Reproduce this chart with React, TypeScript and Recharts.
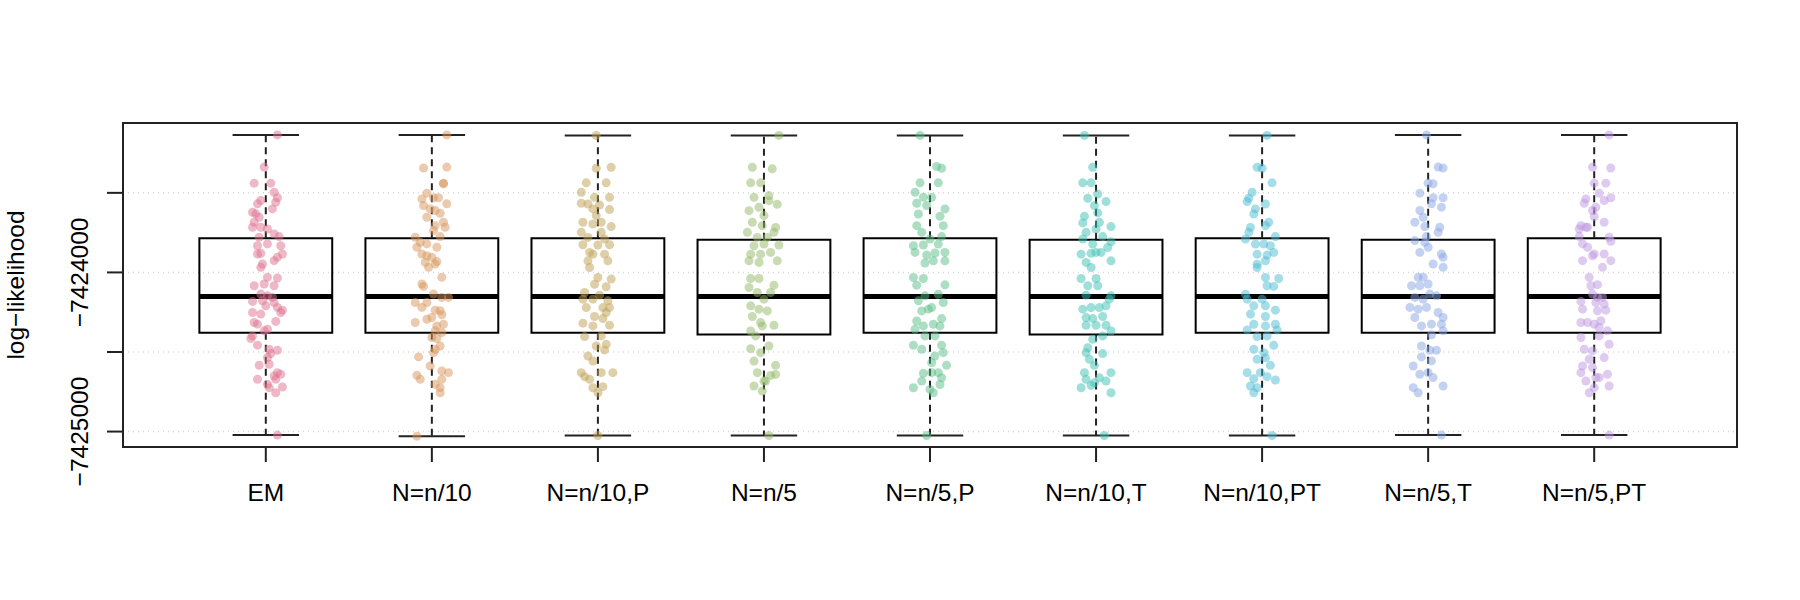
import {
  ComposedChart,
  Scatter,
  XAxis,
  YAxis,
  CartesianGrid,
  ReferenceArea,
  ReferenceLine,
} from "recharts";

const FONT = '"Liberation Sans", Arial, Helvetica, sans-serif';

const categories = [
  "EM",
  "N=n/10",
  "N=n/10,P",
  "N=n/5",
  "N=n/5,P",
  "N=n/10,T",
  "N=n/10,PT",
  "N=n/5,T",
  "N=n/5,PT",
];

// translucent point colours, one per method
const colors = [
  "#DE7290",
  "#D8955C",
  "#C0A052",
  "#93B868",
  "#5ABD88",
  "#3EC2B4",
  "#4BBCD2",
  "#8AA5E6",
  "#BE97E0",
];

// box statistics
const lows = [-7425022, -7425029, -7425025, -7425025, -7425025, -7425025, -7425025, -7425022, -7425022];
const q1s = [-7424379, -7424379, -7424379, -7424390, -7424379, -7424390, -7424379, -7424379, -7424379];
const medians = [-7424151, -7424151, -7424151, -7424151, -7424151, -7424151, -7424151, -7424151, -7424151];
const q3s = [-7423786, -7423786, -7423786, -7423795, -7423786, -7423795, -7423786, -7423795, -7423786];
const highs = [-7423136, -7423136, -7423139, -7423139, -7423139, -7423139, -7423139, -7423136, -7423136];

const yTicks = [-7425000, -7424500, -7424000, -7423500];
const yLabelled = [-7425000, -7424000];

// [jitter, log-likelihood]
const emPts: [number, number][] = [
  [0.07, -7423136], [-0.01, -7423338], [-0.07, -7423439], [0.03, -7423439], [0.05, -7423496],
  [0.07, -7423531], [0.06, -7423559], [-0.05, -7423569], [-0.03, -7423548], [-0.08, -7423622],
  [0.04, -7423601], [-0.06, -7423632], [-0.07, -7423685], [-0.04, -7423653], [-0.08, -7423716],
  [-0.03, -7423716], [0.01, -7423727], [0.05, -7423758], [0.08, -7423775], [-0.04, -7423779],
  [-0.05, -7423832], [0.01, -7423821], [0.09, -7423832], [-0.03, -7423880], [-0.05, -7423884],
  [0.1, -7423884], [0.07, -7423905], [0.05, -7423926], [-0.02, -7423947], [-0.03, -7423968],
  [0.01, -7424031], [0.07, -7424035], [-0.07, -7424084], [-0.01, -7424073], [0.05, -7424084],
  [-0.03, -7424136], [0.01, -7424147], [0.04, -7424157], [-0.08, -7424182], [-0.02, -7424178],
  [0.05, -7424189], [0, -7424210], [0.07, -7424220], [0.1, -7424237], [-0.08, -7424252],
  [-0.03, -7424262], [0.09, -7424252], [-0.07, -7424315], [-0.05, -7424325], [0.06, -7424308],
  [0.01, -7424357], [-0.01, -7424367], [-0.08, -7424399], [-0.09, -7424415], [-0.05, -7424457],
  [0.02, -7424483], [0.07, -7424489], [0.03, -7424510], [0.01, -7424535], [-0.04, -7424583],
  [0.02, -7424577], [0.07, -7424630], [0.05, -7424651], [0.09, -7424640], [0.06, -7424672],
  [-0.05, -7424672], [0.01, -7424703], [0.1, -7424720], [0.02, -7424724], [0.06, -7424756],
  [0.07, -7425022],
];

const n10Pts: [number, number][] = [
  [0.09, -7423136], [-0.05, -7423344], [0.09, -7423338], [0.07, -7423439], [0.07, -7423443],
  [-0.03, -7423502], [-0.06, -7423538], [0.01, -7423531], [0.04, -7423531], [0.09, -7423569],
  [-0.05, -7423580], [-0.01, -7423601], [0.02, -7423611], [0.05, -7423628], [-0.03, -7423653],
  [0.07, -7423685], [0.02, -7423706], [0.08, -7423716], [0.01, -7423737], [0.05, -7423775],
  [-0.1, -7423779], [-0.07, -7423811], [-0.03, -7423821], [-0.09, -7423842], [0.03, -7423842],
  [-0.06, -7423884], [-0.03, -7423895], [0, -7423905], [-0.04, -7423937], [0.02, -7423947],
  [0.03, -7423932], [-0.02, -7423968], [0.06, -7424031], [-0.06, -7424073], [-0.05, -7424088],
  [0.01, -7424136], [0.06, -7424157], [0.1, -7424157], [-0.1, -7424189], [-0.03, -7424189],
  [-0.06, -7424220], [0.02, -7424237], [0.05, -7424241], [0.06, -7424266], [0, -7424283],
  [-0.03, -7424294], [-0.1, -7424315], [0.07, -7424325], [0.03, -7424336], [0.02, -7424367],
  [0.06, -7424378], [0, -7424409], [0.03, -7424415], [0.02, -7424483], [0.05, -7424462],
  [0.01, -7424504], [-0.08, -7424531], [-0.01, -7424588], [0.06, -7424619], [0.1, -7424630],
  [-0.09, -7424646], [-0.07, -7424672], [0.06, -7424672], [0.02, -7424703], [0.05, -7424724],
  [0.05, -7424756], [-0.09, -7425029],
];

const n10pPts: [number, number][] = [
  [-0.01, -7423139], [-0.01, -7423345], [0.08, -7423339], [-0.07, -7423437], [0.05, -7423437],
  [-0.1, -7423496], [0.07, -7423528], [-0.1, -7423565], [-0.06, -7423570], [-0.02, -7423528],
  [0.01, -7423576], [-0.03, -7423601], [0.07, -7423605], [-0.01, -7423643], [-0.09, -7423685],
  [-0.03, -7423696], [0.02, -7423685], [0.08, -7423712], [-0.1, -7423748], [0.02, -7423748],
  [-0.06, -7423780], [0.04, -7423790], [-0.09, -7423826], [0, -7423828], [0.07, -7423826],
  [-0.05, -7423874], [-0.03, -7423885], [0.04, -7423885], [0.06, -7423927], [-0.06, -7423927],
  [-0.05, -7423969], [0, -7424032], [0.08, -7424042], [-0.02, -7424074], [0.05, -7424090],
  [-0.08, -7424126], [0.01, -7424143], [-0.09, -7424168], [-0.03, -7424168], [0.06, -7424178],
  [-0.07, -7424221], [0.03, -7424221], [0.07, -7424221], [0.05, -7424252], [-0.02, -7424277],
  [0.03, -7424290], [-0.09, -7424319], [-0.03, -7424336], [0.07, -7424332], [-0.08, -7424403],
  [0.02, -7424399], [0.05, -7424452], [-0.01, -7424462], [0.04, -7424487], [-0.06, -7424525],
  [-0.03, -7424557], [-0.1, -7424630], [-0.08, -7424655], [-0.05, -7424672], [0.02, -7424630],
  [0.09, -7424630], [-0.03, -7424725], [0.03, -7424718], [0, -7424756], [0, -7425025],
];

const n5Pts: [number, number][] = [
  [0.09, -7423139], [-0.07, -7423339], [0.05, -7423349], [-0.08, -7423437], [-0.02, -7423437],
  [-0.06, -7423528], [0.03, -7423517], [0.08, -7423572], [-0.09, -7423612], [-0.03, -7423591],
  [0.03, -7423549], [0, -7423643], [-0.07, -7423685], [-0.01, -7423706], [0.07, -7423717],
  [-0.1, -7423748], [0.06, -7423748], [0.02, -7423780], [-0.04, -7423780], [-0.06, -7423832],
  [0, -7423822], [0.09, -7423828], [-0.08, -7423885], [-0.02, -7423885], [0.04, -7423874],
  [-0.09, -7423927], [0.08, -7423927], [-0.03, -7423937], [-0.08, -7424038], [-0.03, -7424038],
  [0.06, -7424080], [-0.09, -7424095], [-0.04, -7424126], [0.04, -7424126], [0, -7424168],
  [-0.08, -7424210], [-0.03, -7424231], [0.02, -7424242], [-0.07, -7424277], [-0.02, -7424315],
  [0.06, -7424332], [-0.01, -7424336], [-0.08, -7424368], [-0.05, -7424399], [0.03, -7424462],
  [-0.08, -7424479], [-0.02, -7424504], [-0.06, -7424557], [0.07, -7424584], [-0.04, -7424630],
  [0.04, -7424647], [0.07, -7424641], [0, -7424683], [-0.06, -7424714], [-0.01, -7424746],
  [0.01, -7424683], [0.03, -7425025],
];

const n5pPts: [number, number][] = [
  [-0.06, -7423139], [0.04, -7423334], [0.07, -7423345], [-0.06, -7423437], [0.05, -7423437],
  [-0.09, -7423496], [-0.04, -7423528], [0.01, -7423528], [-0.02, -7423580], [-0.08, -7423565],
  [0.09, -7423601], [-0.07, -7423633], [0.06, -7423647], [0.08, -7423706], [-0.08, -7423706],
  [-0.05, -7423748], [0.07, -7423775], [-0.1, -7423832], [-0.04, -7423828], [0, -7423790],
  [0.05, -7423822], [-0.09, -7423874], [-0.02, -7423891], [0.03, -7423878], [0.09, -7423874],
  [-0.03, -7423941], [0.02, -7423927], [0.09, -7423927], [-0.1, -7424032], [-0.04, -7424038],
  [-0.08, -7424080], [0.09, -7424078], [-0.03, -7424147], [0.05, -7424137], [-0.07, -7424178],
  [0.01, -7424221], [0.08, -7424189], [-0.05, -7424242], [-0.01, -7424231], [0.07, -7424290],
  [-0.08, -7424305], [0.02, -7424326], [0.06, -7424336], [-0.09, -7424357], [-0.04, -7424336],
  [-0.03, -7424399], [0.03, -7424399], [-0.1, -7424458], [-0.05, -7424483], [0.07, -7424458],
  [0.03, -7424525], [0.08, -7424504], [0.01, -7424567], [0.1, -7424584], [-0.04, -7424634],
  [0.05, -7424630], [0.07, -7424662], [-0.05, -7424683], [0.01, -7424630], [-0.1, -7424725],
  [0, -7424735], [0.02, -7424756], [0.06, -7424704], [-0.02, -7425025],
];

const n10tPts: [number, number][] = [
  [-0.07, -7423139], [-0.02, -7423339], [-0.08, -7423437], [-0.03, -7423437], [0.01, -7423507],
  [0.06, -7423555], [-0.05, -7423534], [-0.01, -7423580], [0.01, -7423626], [-0.07, -7423647],
  [-0.08, -7423689], [0.02, -7423685], [0.09, -7423712], [0, -7423727], [-0.06, -7423748],
  [-0.08, -7423790], [0.04, -7423775], [0.09, -7423807], [-0.02, -7423822], [0.07, -7423843],
  [-0.09, -7423885], [-0.03, -7423880], [0, -7423874], [0.03, -7423874], [-0.06, -7423937],
  [-0.03, -7423969], [0.09, -7423927], [-0.09, -7424038], [0, -7424038], [-0.05, -7424084],
  [0.01, -7424084], [0.09, -7424147], [-0.06, -7424143], [-0.08, -7424231], [-0.03, -7424221],
  [0.02, -7424221], [0.06, -7424210], [0.08, -7424168], [-0.06, -7424284], [-0.02, -7424290],
  [0.04, -7424277], [-0.06, -7424332], [0, -7424332], [0.06, -7424332], [0.09, -7424368],
  [0.04, -7424399], [-0.02, -7424420], [-0.05, -7424473], [-0.06, -7424504], [0.04, -7424510],
  [-0.04, -7424546], [-0.01, -7424584], [-0.07, -7424630], [0.09, -7424630], [-0.06, -7424672],
  [0.02, -7424662], [0.06, -7424683], [-0.01, -7424693], [-0.09, -7424725], [-0.03, -7424710],
  [0.09, -7424756], [0.05, -7425025],
];

const n10ptPts: [number, number][] = [
  [0.03, -7423139], [-0.03, -7423339], [0, -7423345], [0.06, -7423437], [-0.06, -7423496],
  [-0.08, -7423534], [-0.09, -7423555], [0.02, -7423570], [-0.04, -7423601], [-0.05, -7423633],
  [0.04, -7423685], [0.02, -7423706], [-0.07, -7423717], [-0.08, -7423748], [-0.1, -7423790],
  [0.08, -7423775], [-0.04, -7423822], [0.01, -7423822], [0.05, -7423832], [0.07, -7423874],
  [-0.03, -7423885], [0.03, -7423891], [0.02, -7423927], [-0.03, -7423948], [-0.03, -7423969],
  [0.02, -7424032], [0.1, -7424038], [0.03, -7424084], [0.07, -7424088], [-0.1, -7424137],
  [-0.09, -7424168], [0, -7424168], [-0.05, -7424210], [0.02, -7424210], [0.08, -7424237],
  [-0.07, -7424262], [0.02, -7424277], [-0.05, -7424326], [0.02, -7424336], [0.08, -7424326],
  [-0.09, -7424361], [0.09, -7424361], [-0.03, -7424403], [0.03, -7424399], [0.07, -7424458],
  [-0.05, -7424483], [0.01, -7424504], [-0.03, -7424546], [0.02, -7424536], [0.05, -7424584],
  [-0.09, -7424630], [-0.01, -7424630], [-0.05, -7424668], [0.03, -7424655], [0.08, -7424676],
  [-0.07, -7424714], [-0.03, -7424725], [-0.05, -7424756], [0.06, -7425025],
];

const n5tPts: [number, number][] = [
  [-0.01, -7423136], [0.06, -7423338], [0.09, -7423344], [0, -7423439], [0.03, -7423443],
  [-0.05, -7423502], [0.03, -7423531], [0.09, -7423531], [0.02, -7423569], [0.08, -7423590],
  [-0.05, -7423611], [-0.03, -7423653], [-0.02, -7423712], [-0.08, -7423685], [0.07, -7423716],
  [-0.01, -7423775], [0.06, -7423748], [-0.08, -7423800], [-0.02, -7423811], [0, -7423842],
  [-0.05, -7423874], [0.08, -7423884], [0.09, -7423905], [0.03, -7423947], [0.09, -7423968],
  [-0.06, -7424031], [-0.03, -7424031], [-0.1, -7424084], [-0.05, -7424084], [0, -7424073],
  [-0.08, -7424157], [-0.03, -7424168], [0.01, -7424136], [0.05, -7424147], [-0.11, -7424220],
  [-0.06, -7424231], [-0.01, -7424220], [0.06, -7424252], [0.09, -7424283], [-0.08, -7424283],
  [-0.04, -7424336], [0.02, -7424325], [0.08, -7424325], [0.09, -7424367], [0.02, -7424392],
  [-0.04, -7424462], [0.01, -7424489], [0.05, -7424489], [-0.04, -7424531], [0.02, -7424556],
  [-0.09, -7424588], [-0.05, -7424640], [0, -7424630], [0.03, -7424661], [0.09, -7424714],
  [-0.09, -7424724], [-0.06, -7424756], [0.08, -7425022],
];

const n5ptPts: [number, number][] = [
  [0.09, -7423136], [-0.01, -7423338], [0.1, -7423344], [0, -7423439], [0.07, -7423439],
  [0.03, -7423502], [0.1, -7423531], [-0.05, -7423538], [-0.06, -7423565], [0.06, -7423548],
  [0.01, -7423590], [-0.01, -7423611], [0, -7423649], [0.06, -7423685], [-0.08, -7423706],
  [-0.05, -7423716], [-0.09, -7423727], [-0.04, -7423716], [-0.09, -7423775], [0.09, -7423779],
  [0.1, -7423804], [-0.07, -7423821], [-0.04, -7423842], [0, -7423884], [-0.01, -7423895],
  [0.06, -7423884], [-0.07, -7423926], [0.05, -7423968], [0.1, -7423926], [-0.03, -7424031],
  [0.02, -7424077], [-0.02, -7424084], [-0.01, -7424136], [0.02, -7424157], [0.05, -7424157],
  [-0.08, -7424182], [0.01, -7424189], [0.06, -7424199], [-0.07, -7424231], [0.02, -7424241],
  [0.07, -7424237], [-0.08, -7424315], [-0.04, -7424315], [0.04, -7424304], [0, -7424325],
  [0.03, -7424346], [0.03, -7424399], [0.08, -7424367], [-0.08, -7424409], [-0.06, -7424483],
  [-0.01, -7424493], [0.09, -7424451], [-0.03, -7424546], [0.06, -7424535], [-0.07, -7424588],
  [-0.01, -7424598], [-0.08, -7424630], [0.03, -7424661], [0.08, -7424640], [0.01, -7424661],
  [-0.05, -7424682], [0.09, -7424714], [-0.03, -7424756], [0, -7424724], [0.09, -7425022],
];

const groups = [emPts, n10Pts, n10pPts, n5Pts, n5pPts, n10tPts, n10ptPts, n5tPts, n5ptPts];

const X_DOMAIN: [number, number] = [0.14, 9.86];
const Y_DOMAIN: [number, number] = [-7425097, -7423061];

const fmt = (v: number) => (v < 0 ? "\u2212" + Math.abs(v) : String(v));

const XTick = ({ x, y, payload }: any) => (
  <text
    x={x}
    y={y + 37}
    textAnchor="middle"
    fontSize={24.5}
    fontFamily={FONT}
    fill="#000"
  >
    {categories[payload.value - 1]}
  </text>
);

const YTick = ({ x, y, payload }: any) => {
  if (!yLabelled.includes(payload.value)) return <g />;
  return (
    <text
      transform={`translate(${x - 17},${y}) rotate(-90)`}
      textAnchor="middle"
      fontSize={24.5}
      fontFamily={FONT}
      fill="#000"
    >
      {fmt(payload.value)}
    </text>
  );
};

const YTitle = ({ viewBox }: any) => {
  const cy = viewBox.y + viewBox.height / 2;
  return (
    <text
      transform={`translate(24,${cy}) rotate(-90)`}
      textAnchor="middle"
      fontSize={24.5}
      fontFamily={FONT}
      fill="#000"
    >
      log{"\u2212"}likelihood
    </text>
  );
};

const Dot = (color: string) => (props: any) =>
  <circle cx={props.cx} cy={props.cy} r={4.5} fill={color} fillOpacity={0.5} />;

export default function App() {
  return (
    <div style={{ position: "absolute", left: 0, top: 0, background: "#fff" }}>
      <ComposedChart
        width={1800}
        height={600}
        margin={{ top: 123, right: 63, left: 0, bottom: 0 }}
      >
        <CartesianGrid
          vertical={false}
          stroke="#d8d8d8"
          strokeDasharray="1 4"
          strokeWidth={1.5}
        />
        <XAxis
          type="number"
          dataKey="x"
          domain={X_DOMAIN}
          ticks={[1, 2, 3, 4, 5, 6, 7, 8, 9]}
          allowDataOverflow
          height={153}
          tickSize={15}
          tickLine={{ stroke: "#222", strokeWidth: 2 }}
          axisLine={false}
          tick={<XTick />}
          interval={0}
        />
        <YAxis
          type="number"
          dataKey="y"
          domain={Y_DOMAIN}
          ticks={yTicks}
          allowDataOverflow
          width={123}
          tickSize={16}
          tickLine={{ stroke: "#222", strokeWidth: 2 }}
          axisLine={false}
          tick={<YTick />}
          interval={0}
          label={<YTitle />}
        />

        {categories.map((c, i) => (
          <ReferenceLine
            key={`wu-${c}`}
            segment={[{ x: i + 1, y: q3s[i] }, { x: i + 1, y: highs[i] }]}
            stroke="#222"
            strokeWidth={2}
            strokeDasharray="7 5"
          />
        ))}
        {categories.map((c, i) => (
          <ReferenceLine
            key={`wl-${c}`}
            segment={[{ x: i + 1, y: q1s[i] }, { x: i + 1, y: lows[i] }]}
            stroke="#222"
            strokeWidth={2}
            strokeDasharray="7 5"
          />
        ))}
        {categories.map((c, i) => (
          <ReferenceLine
            key={`cu-${c}`}
            segment={[{ x: i + 0.8, y: highs[i] }, { x: i + 1.2, y: highs[i] }]}
            stroke="#222"
            strokeWidth={2}
          />
        ))}
        {categories.map((c, i) => (
          <ReferenceLine
            key={`cl-${c}`}
            segment={[{ x: i + 0.8, y: lows[i] }, { x: i + 1.2, y: lows[i] }]}
            stroke="#222"
            strokeWidth={2}
          />
        ))}
        {categories.map((c, i) => (
          <ReferenceArea
            key={`box-${c}`}
            x1={i + 0.6}
            x2={i + 1.4}
            y1={q1s[i]}
            y2={q3s[i]}
            fill="none"
            fillOpacity={0}
            stroke="#000"
            strokeWidth={2}
          />
        ))}
        {categories.map((c, i) => (
          <ReferenceLine
            key={`med-${c}`}
            segment={[{ x: i + 0.6, y: medians[i] }, { x: i + 1.4, y: medians[i] }]}
            stroke="#000"
            strokeWidth={5}
          />
        ))}

        {groups.map((pts, i) => (
          <Scatter
            key={categories[i]}
            name={categories[i]}
            data={pts.map(([dx, v]) => ({ x: i + 1 + dx, y: v }))}
            shape={Dot(colors[i])}
            isAnimationActive={false}
          />
        ))}

        <ReferenceArea
          x1={X_DOMAIN[0]}
          x2={X_DOMAIN[1]}
          y1={Y_DOMAIN[0]}
          y2={Y_DOMAIN[1]}
          fill="none"
          fillOpacity={0}
          stroke="#222"
          strokeWidth={2}
        />
      </ComposedChart>
    </div>
  );
}
